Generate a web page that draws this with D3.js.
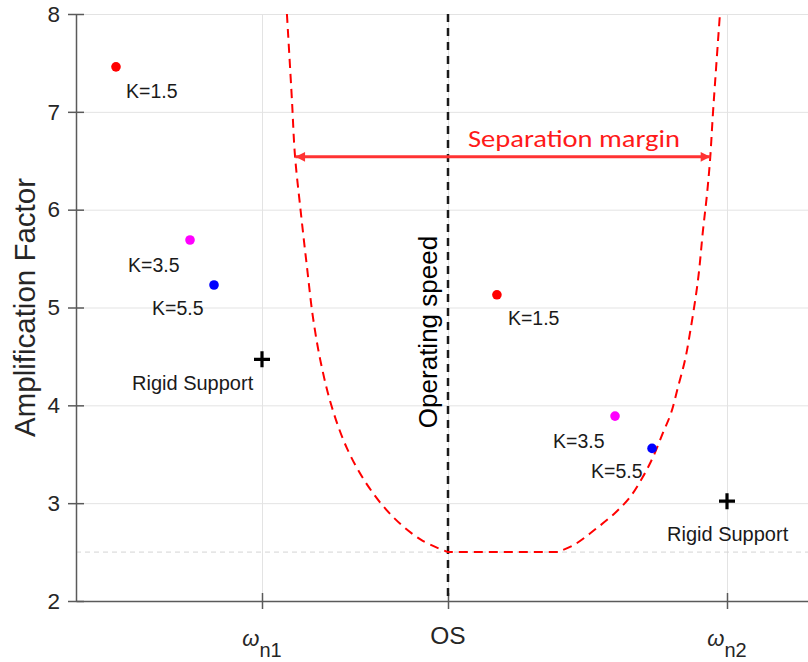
<!DOCTYPE html>
<html>
<head>
<meta charset="utf-8">
<script src="https://cdn.jsdelivr.net/npm/d3@7"></script>
<style>
  body { margin: 0; background: #fff; }
  text { font-family: "Liberation Sans", Arial, sans-serif; }
</style>
</head>
<body>
<svg id="vis" width="808" height="662"></svg>
<script>
// axis ticks
var yTicks = [2, 3, 4, 5, 6, 7, 8];
var xTickValues = [2, 3, 4.5];
var xTickMain = ["\u03C9", "OS", "\u03C9"];
var xTickSub = ["n1", "", "n2"];

// stiffness points (left group near wn1, right group near wn2)
var pointX = [1.215, 1.613, 1.742, 3.263, 3.898, 4.097];
var pointY = [7.46, 5.69, 5.23, 5.13, 3.89, 3.56];
var pointColor = ["#ff0000", "#ff00ff", "#0000ff", "#ff0000", "#ff00ff", "#0000ff"];
var pointLabel = ["K=1.5", "K=3.5", "K=5.5", "K=1.5", "K=3.5", "K=5.5"];

// rigid support markers
var rigidX = [2, 4.5];
var rigidY = [4.47, 3.02];
var rigidLabel = ["Rigid Support", "Rigid Support"];

// dashed amplification curve: left branch, flat floor, right branch
var leftBranchX = [2.134, 2.161, 2.177, 2.210, 2.242, 2.274, 2.317, 2.376, 2.457, 2.565, 2.704, 2.860, 3.0];
var leftBranchY = [8.00, 7.12, 6.56, 5.95, 5.41, 4.90, 4.43, 3.98, 3.56, 3.19, 2.86, 2.62, 2.50];
var floorX = [3.0, 3.591];
var floorY = [2.5, 2.5];
var rightBranchX = [3.591, 3.683, 3.790, 3.898, 3.978, 4.048, 4.102, 4.156, 4.199, 4.237, 4.274, 4.301, 4.344, 4.371, 4.392, 4.409, 4.425, 4.462];
var rightBranchY = [2.50, 2.58, 2.73, 2.90, 3.06, 3.27, 3.47, 3.72, 3.92, 4.19, 4.46, 4.74, 5.28, 5.79, 6.15, 6.51, 7.00, 8.00];

var operatingSpeed = 3;
var baseLevel = 2.5;
var marginY = 6.54;
var marginX = [2.18, 4.41];

// label offsets in px from their marker
var pointLabelOffset = [[10, 31], [-62, 32], [-62, 30], [11, 30], [-62, 32], [-61, 30]];
var rigidLabelOffset = [[-130, 31], [-60, 40]];

var svg = d3.select("svg#vis");

var x = d3.scaleLinear().domain([1, 5]).range([76, 820]);
var y = d3.scaleLinear().domain([2, 8]).range([601, 14]);

var plotLeft = x.range()[0], plotRight = 808, plotTop = y.range()[1], plotBottom = y.range()[0];

// gridlines
svg.append("g")
    .attr("transform", "translate(" + plotLeft + ",0)")
    .call(d3.axisLeft(y).tickValues(yTicks).tickFormat("").tickSize(-(plotRight - plotLeft)))
    .call(g => g.select(".domain").remove())
    .selectAll("line").attr("stroke", "#e3e3e3");

svg.append("g")
    .attr("transform", "translate(0," + plotBottom + ")")
    .call(d3.axisBottom(x).tickValues(xTickValues).tickFormat("").tickSize(-(plotBottom - plotTop)))
    .call(g => g.select(".domain").remove())
    .selectAll("line").attr("stroke", "#e3e3e3");

// base level reference
svg.append("line")
    .attr("x1", plotLeft).attr("x2", plotRight)
    .attr("y1", y(baseLevel)).attr("y2", y(baseLevel))
    .attr("stroke", "#d4d4d4")
    .attr("stroke-dasharray", "5,4");

// axes, ticks on both sides
var axisColor = "#5a5a5a";
var yAxisOut = svg.append("g").attr("transform", "translate(" + plotLeft + ",0)")
    .call(d3.axisLeft(y).tickValues(yTicks).tickFormat(d3.format("d")).tickSize(8).tickSizeOuter(0).tickPadding(8));
var yAxisIn = svg.append("g").attr("transform", "translate(" + plotLeft + ",0)")
    .call(d3.axisRight(y).tickValues(yTicks).tickSize(8).tickSizeOuter(0).tickFormat(""));
yAxisIn.select(".domain").remove();
yAxisOut.selectAll("text")
    .style("font-family", "Liberation Sans, Arial, sans-serif")
    .style("font-size", "22.5px")
    .attr("fill", "#262626");

var xAxisOut = svg.append("g").attr("transform", "translate(0," + plotBottom + ")")
    .call(d3.axisBottom(x).tickValues(xTickValues).tickSize(8).tickSizeOuter(0).tickFormat(""));
var xAxisIn = svg.append("g").attr("transform", "translate(0," + plotBottom + ")")
    .call(d3.axisTop(x).tickValues(xTickValues).tickSize(8).tickSizeOuter(0).tickFormat(""));
xAxisIn.select(".domain").remove();

d3.selectAll([yAxisOut.node(), yAxisIn.node(), xAxisOut.node(), xAxisIn.node()])
    .selectAll("path, line")
    .attr("stroke", axisColor)
    .attr("stroke-width", 1.5);

var xLabels = svg.append("g").selectAll("text")
    .data(xTickValues)
    .enter().append("text")
    .attr("x", d => x(d))
    .attr("y", (d, i) => xTickSub[i] ? 646 : 644)
    .attr("text-anchor", "middle")
    .attr("fill", "#262626")
    .style("font-size", "24px");
xLabels.append("tspan")
    .style("font-style", (d, i) => xTickSub[i] ? "italic" : "normal")
    .style("font-size", (d, i) => xTickSub[i] ? "22px" : "24.5px")
    .text((d, i) => xTickMain[i]);
xLabels.append("tspan")
    .attr("dy", 11)
    .style("font-size", "20px")
    .text((d, i) => xTickSub[i]);

// y axis title
svg.append("text")
    .attr("transform", "translate(35," + ((plotTop + plotBottom) / 2) + ") rotate(-90)")
    .attr("text-anchor", "middle")
    .attr("fill", "#262626")
    .style("font-size", "29.5px")
    .text("Amplification Factor");

// operating speed line
svg.append("line")
    .attr("x1", x(operatingSpeed)).attr("x2", x(operatingSpeed))
    .attr("y1", plotTop).attr("y2", plotBottom)
    .attr("stroke", "#1a1a1a")
    .attr("stroke-width", 2.5)
    .attr("stroke-dasharray", "8,6");

svg.append("text")
    .attr("transform", "translate(" + (x(operatingSpeed) - 11) + ",332) rotate(-90)")
    .attr("text-anchor", "middle")
    .attr("fill", "#000")
    .style("font-size", "26px")
    .text("Operating speed");

// amplification curve
var smoothLine = d3.line()
    .x(d => x(d[0]))
    .y(d => y(d[1]))
    .curve(d3.curveCatmullRom.alpha(0.5));
var straightLine = d3.line()
    .x(d => x(d[0]))
    .y(d => y(d[1]));

var pairs = (xs, ys) => xs.map((d, i) => [d, ys[i]]);
var leftD = smoothLine(pairs(leftBranchX, leftBranchY));
var floorD = straightLine(pairs(floorX, floorY)).replace(/^M[^L]*/, "");
var rightD = smoothLine(pairs(rightBranchX, rightBranchY)).replace(/^M[^C]*/, "");

svg.append("path")
    .attr("d", leftD + floorD + rightD)
    .attr("fill", "none")
    .attr("stroke", "#ff0000")
    .attr("stroke-width", 2)
    .attr("stroke-dasharray", "9,6");

// separation margin arrow
var defs = svg.append("defs");
defs.append("marker")
    .attr("id", "arrowEnd")
    .attr("viewBox", "0 0 10 10")
    .attr("refX", 10).attr("refY", 5)
    .attr("markerWidth", 4.5).attr("markerHeight", 3.2)
    .attr("markerUnits", "strokeWidth")
    .attr("orient", "auto-start-reverse")
    .append("path")
    .attr("d", "M0,0 L10,5 L0,10 Z")
    .attr("fill", "#ff3333");

svg.append("line")
    .attr("x1", x(marginX[0])).attr("x2", x(marginX[1]))
    .attr("y1", y(marginY)).attr("y2", y(marginY))
    .attr("stroke", "#ff3333")
    .attr("stroke-width", 3)
    .attr("marker-start", "url(#arrowEnd)")
    .attr("marker-end", "url(#arrowEnd)");

svg.append("text")
    .attr("x", 468)
    .attr("y", y(marginY) - 10)
    .attr("fill", "#ff1a1a")
    .attr("textLength", 212)
    .attr("lengthAdjust", "spacingAndGlyphs")
    .style("font-family", "Carlito, 'Open Sans', sans-serif")
    .style("font-size", "24px")
    .text("Separation margin");

// stiffness points
svg.append("g").selectAll("circle")
    .data(pointX)
    .enter().append("circle")
    .attr("cx", d => x(d))
    .attr("cy", (d, i) => y(pointY[i]))
    .attr("r", 4.8)
    .attr("fill", (d, i) => pointColor[i]);

svg.append("g").selectAll("text")
    .data(pointX)
    .enter().append("text")
    .attr("x", (d, i) => x(d) + pointLabelOffset[i][0])
    .attr("y", (d, i) => y(pointY[i]) + pointLabelOffset[i][1])
    .attr("fill", "#1a1a1a")
    .style("font-size", "19.5px")
    .text((d, i) => pointLabel[i]);

// rigid support crosses
svg.append("g").selectAll("path")
    .data(rigidX)
    .enter().append("path")
    .attr("d", (d, i) => {
        var cx = x(d), cy = y(rigidY[i]), s = 8;
        return "M" + (cx - s) + "," + cy + "H" + (cx + s) + "M" + cx + "," + (cy - s) + "V" + (cy + s);
    })
    .attr("stroke", "#000")
    .attr("stroke-width", 3.2);

svg.append("g").selectAll("text")
    .data(rigidX)
    .enter().append("text")
    .attr("x", (d, i) => x(d) + rigidLabelOffset[i][0])
    .attr("y", (d, i) => y(rigidY[i]) + rigidLabelOffset[i][1])
    .attr("fill", "#1a1a1a")
    .style("font-size", "20px")
    .text((d, i) => rigidLabel[i]);
</script>
</body>
</html>
